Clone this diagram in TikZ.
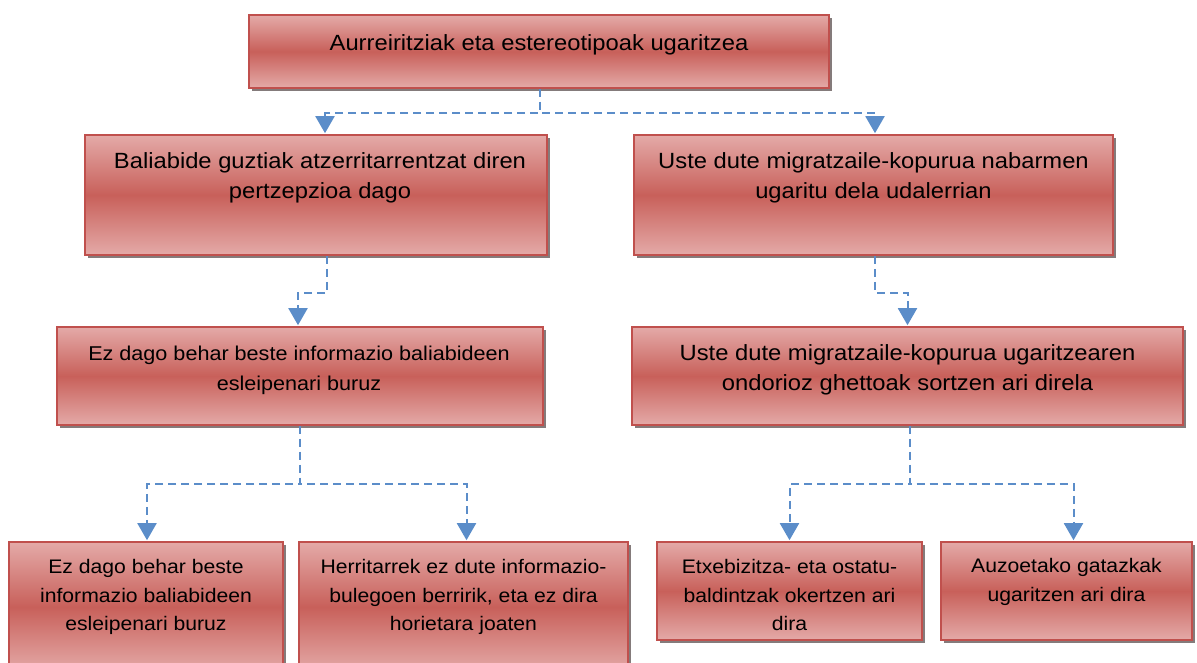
\documentclass[tikz,border=0pt]{standalone}
\usepackage{fontspec}
\setmainfont[FakeStretch=1.08]{Liberation Sans}
\usetikzlibrary{arrows.meta,shadows,calc}
\definecolor{boxborder}{HTML}{C0504D}
\definecolor{boxlight}{HTML}{E4AAA8}
\definecolor{boxdark}{HTML}{C8605A}
\definecolor{connblue}{HTML}{5B8DC9}
\definecolor{shadowgray}{HTML}{6E6464}
\tikzset{
  causebox/.style={draw=boxborder, line width=1.6pt, rectangle,
    top color=boxlight, bottom color=boxlight, middle color=boxdark,
    general shadow={shadow xshift=3pt, shadow yshift=-3pt, fill=shadowgray, opacity=0.85},
    inner sep=0pt},
  boxtext/.style={align=center, font=\fontsize{22}{30}\selectfont, text=black, inner sep=0pt},
  midtext/.style={align=center, font=\fontsize{20}{30}\selectfont, text=black, inner sep=0pt},
  smalltext/.style={align=center, font=\fontsize{19.6}{28.5}\selectfont, text=black, inner sep=0pt},
  conn/.style={draw=connblue, line width=2pt, dash pattern=on 8pt off 5pt,
    -{Triangle[width=19pt,length=17pt,fill=connblue]}, shorten >=1pt}
}
\begin{document}
\begin{tikzpicture}[x=1pt,y=-1pt]
\useasboundingbox (0,0) rectangle (1197,662);
% boxes
\node[causebox, minimum width=580pt, minimum height=73pt] (top) at (539,51.5) {};
\node[causebox, minimum width=462pt, minimum height=120pt] (b1) at (316,195) {};
\node[causebox, minimum width=479pt, minimum height=120pt] (b2) at (873.5,195) {};
\node[causebox, minimum width=486pt, minimum height=98pt] (c1) at (300,376) {};
\node[causebox, minimum width=551pt, minimum height=98pt] (c2) at (907.5,376) {};
\node[causebox, minimum width=274pt, minimum height=130pt] (d1) at (146,607) {};
\node[causebox, minimum width=329pt, minimum height=130pt] (d2) at (463.5,607) {};
\node[causebox, minimum width=265pt, minimum height=98pt] (d3) at (789.5,591) {};
\node[causebox, minimum width=251pt, minimum height=98pt] (d4) at (1066.5,591) {};
% texts
\node[boxtext] (ttop) at (539,45) {Aurreiritziak eta estereotipoak ugaritzea};
\node[boxtext] (tb1) at (320,178) {Baliabide guztiak atzerritarrentzat diren\\pertzepzioa dago};
\node[boxtext] (tb2) at (873.5,178) {Uste dute migratzaile-kopurua nabarmen\\ugaritu dela udalerrian};
\node[midtext] (tc1) at (299,370) {Ez dago behar beste informazio baliabideen\\esleipenari buruz};
\node[boxtext] (tc2) at (907.5,370) {Uste dute migratzaile-kopurua ugaritzearen\\ondorioz ghettoak sortzen ari direla};
\node[smalltext] (td1) at (146,597) {Ez dago behar beste\\informazio baliabideen\\esleipenari buruz};
\node[smalltext] (td2) at (463.5,597) {Herritarrek ez dute informazio-\\bulegoen berririk, eta ez dira\\horietara joaten};
\node[smalltext] (td3) at (789.5,595) {Etxebizitza- eta ostatu-\\baldintzak okertzen ari\\dira};
\node[smalltext] (td4) at (1066.5,582) {Auzoetako gatazkak\\ugaritzen ari dira};
% connectors
\draw[conn] ([xshift=1pt]top.south) -- ++(0,24) -| ([xshift=9pt]b1.north);
\draw[conn] ([xshift=1pt]top.south) -- ++(0,24) -| ([xshift=1.5pt]b2.north);
\draw[conn] ([xshift=11pt]b1.south) -- ++(0,37) -| ([xshift=-2pt]c1.north);
\draw[conn] ([xshift=1.5pt]b2.south) -- ++(0,37) -| (c2.north);
\draw[conn] (c1.south) -- ++(0,58) -| ([xshift=1pt]d1.north);
\draw[conn] (c1.south) -- ++(0,58) -| ([xshift=3pt]d2.north);
\draw[conn] ([xshift=2pt]c2.south) -- ++(0,58) -| (d3.north);
\draw[conn] ([xshift=2pt]c2.south) -- ++(0,58) -| ([xshift=7pt]d4.north);
\end{tikzpicture}
\end{document}
